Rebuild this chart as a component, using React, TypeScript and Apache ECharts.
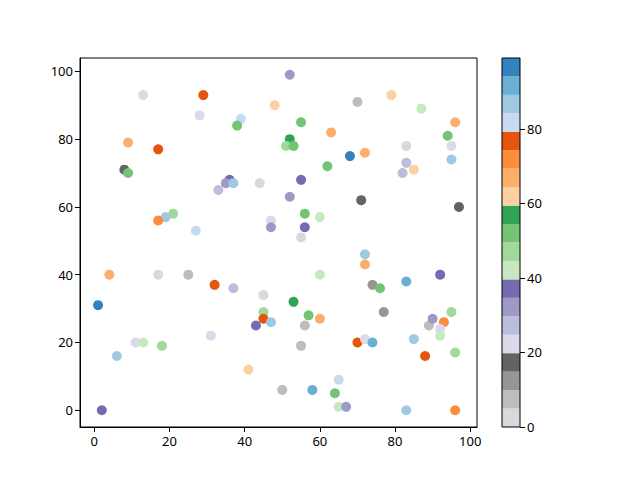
import React, { useEffect, useRef } from "react";
import * as echarts from "echarts";

// scatter data: x, y, colour value
const xs = [13, 29, 48, 28, 39, 38, 9, 17, 8, 9, 52, 70, 79, 87, 55, 96, 63, 52, 51, 53, 94, 68, 72, 83, 95, 95, 83, 82, 85, 62, 55, 44, 36, 35, 37, 33, 21, 19, 17, 27, 47, 47, 4, 17, 25, 32, 37, 45, 52, 71, 97, 56, 60, 56, 55, 72, 72, 60, 74, 76, 83, 92, 1, 45, 45, 47, 43, 31, 11, 13, 18, 6, 41, 50, 2, 53, 57, 60, 56, 55, 77, 70, 72, 74, 85, 89, 90, 93, 95, 92, 92, 88, 96, 65, 58, 64, 65, 67, 83, 96];
const ys = [93, 93, 90, 87, 86, 84, 79, 77, 71, 70, 99, 91, 93, 89, 85, 85, 82, 80, 78, 78, 81, 75, 76, 78, 78, 74, 73, 70, 71, 72, 68, 67, 68, 67, 67, 65, 58, 57, 56, 53, 56, 54, 40, 40, 40, 37, 36, 34, 63, 62, 60, 58, 57, 54, 51, 46, 43, 40, 37, 36, 38, 40, 31, 29, 27, 26, 25, 22, 20, 20, 19, 16, 12, 6, 0, 32, 28, 27, 25, 19, 29, 20, 21, 20, 21, 25, 27, 26, 29, 24, 22, 16, 17, 9, 6, 5, 1, 1, 0, 0];
const cs = [22, 77, 62, 22, 82, 52, 67, 77, 17, 52, 32, 7, 62, 42, 52, 67, 67, 57, 47, 52, 52, 97, 67, 2, 22, 87, 27, 27, 62, 52, 37, 2, 37, 32, 87, 27, 47, 87, 72, 82, 22, 32, 67, 2, 7, 77, 27, 2, 32, 17, 17, 52, 42, 37, 2, 87, 67, 42, 12, 52, 92, 37, 97, 47, 77, 87, 37, 22, 22, 42, 47, 87, 62, 7, 37, 57, 52, 67, 7, 7, 12, 77, 22, 92, 87, 7, 32, 72, 47, 22, 42, 77, 47, 82, 92, 52, 42, 32, 87, 72];

// colour scale (tab20c reversed), range 0..99
const cMin = 0;
const cMax = 99;
const cmap = [
  "#d9d9d9", "#bdbdbd", "#969696", "#636363",
  "#dadaeb", "#bcbddc", "#9e9ac8", "#756bb1",
  "#c7e9c0", "#a1d99b", "#74c476", "#31a354",
  "#fdd0a2", "#fdae6b", "#fd8d3c", "#e6550d",
  "#c6dbef", "#9ecae1", "#6baed6", "#3182bd",
];
const xTicks = [0, 20, 40, 60, 80, 100];
const yTicks = [0, 20, 40, 60, 80, 100];
const cTicks = [0, 20, 40, 60, 80];

export default function App() {
  const ref = useRef<HTMLDivElement>(null);
  useEffect(() => {
    if (!ref.current) return;
    const chart = echarts.init(ref.current, null, { renderer: "svg" });
    const step = (cMax - cMin) / cmap.length;
    const font = "Noto Sans";
    const axisCommon = {
      axisLine: { show: true, onZero: false, lineStyle: { color: "#000", width: 1 } },
      splitLine: { show: false },
    };
    const data = xs.map((x, i) => [x, ys[i], cs[i]]);
    const cbSeries = cmap.map((col, i) => ({
      type: "bar",
      xAxisIndex: 1,
      yAxisIndex: 1,
      stack: "cb",
      barWidth: "100%",
      silent: true,
      itemStyle: { color: col },
      data: [step],
    }));
    chart.setOption({
      animation: false,
      textStyle: { fontFamily: font },
      grid: [
        { left: 80, right: 163, top: 58, bottom: 53, show: true, borderColor: "#000", borderWidth: 1, backgroundColor: "transparent" },
        { left: 502, width: 18, top: 58, bottom: 53, show: true, borderColor: "#000", borderWidth: 1, z: 5 },
      ],
      xAxis: [
        {
          type: "value",
          gridIndex: 0,
          min: -3.8,
          max: 101.8,
          ...axisCommon,
          axisTick: { show: true, length: 5, lineStyle: { color: "#000" }, customValues: xTicks },
          axisLabel: { color: "#000", fontSize: 13, fontFamily: font, margin: 7, customValues: xTicks },
        },
        {
          type: "category",
          gridIndex: 1,
          data: ["c"],
          show: false,
        },
      ],
      yAxis: [
        {
          type: "value",
          gridIndex: 0,
          min: -4.95,
          max: 103.95,
          ...axisCommon,
          axisTick: { show: true, length: 5, lineStyle: { color: "#000" }, customValues: yTicks },
          axisLabel: { color: "#000", fontSize: 13, fontFamily: font, margin: 7, customValues: yTicks },
        },
        {
          type: "value",
          gridIndex: 1,
          position: "right",
          min: cMin,
          max: cMax,
          axisLine: { show: false },
          splitLine: { show: false },
          axisTick: { show: true, length: 5, lineStyle: { color: "#000" }, customValues: cTicks },
          axisLabel: { color: "#000", fontSize: 13, fontFamily: font, margin: 7, customValues: cTicks },
        },
      ],
      visualMap: {
        type: "piecewise",
        show: false,
        seriesIndex: 0,
        dimension: 2,
        pieces: cmap.map((col, i) => ({
          gte: cMin + i * step,
          lt: i === cmap.length - 1 ? cMax + 1 : cMin + (i + 1) * step,
          color: col,
        })),
      },
      series: [
        {
          type: "scatter",
          xAxisIndex: 0,
          yAxisIndex: 0,
          symbolSize: 10,
          itemStyle: { opacity: 1 },
          data,
        },
        ...cbSeries,
      ],
    });
    return () => chart.dispose();
  }, []);
  return <div ref={ref} style={{ width: 640, height: 480, margin: -8 }} />;
}
